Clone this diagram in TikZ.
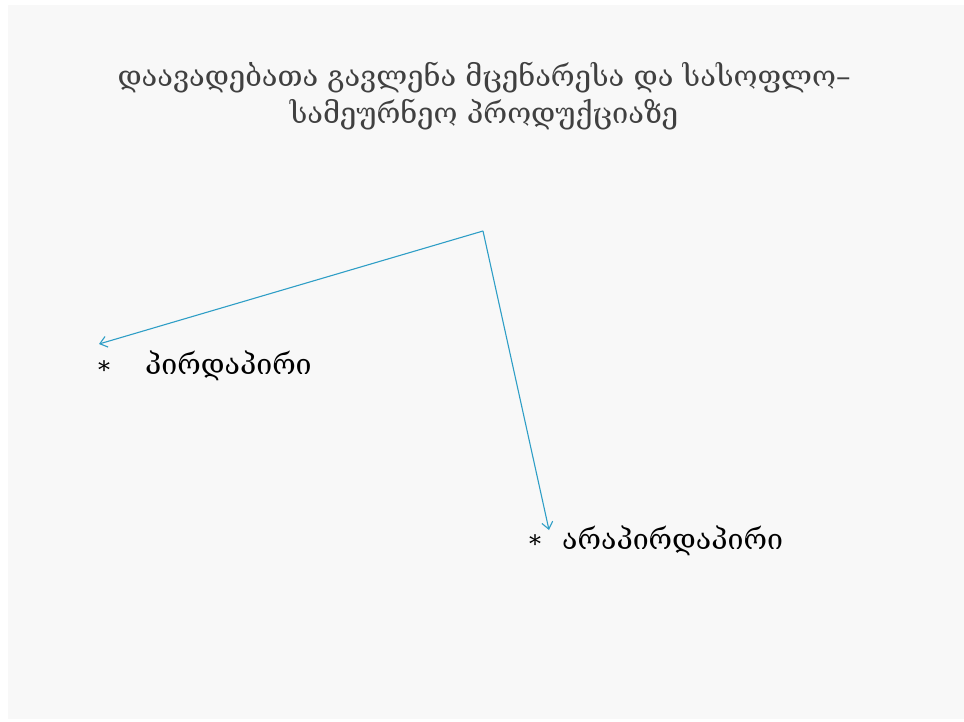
\documentclass[tikz,border=0pt]{standalone}
\usepackage{fontspec}
\setmainfont{DejaVu Serif}
\usetikzlibrary{arrows.meta}
\definecolor{panel}{HTML}{F8F8F8}
\definecolor{titlegray}{HTML}{404040}
\definecolor{arrowblue}{HTML}{2E9EC6}
\tikzset{
  titletext/.style={text=titlegray, font=\fontsize{29}{37}\selectfont, align=center, inner sep=0pt},
  itemtext/.style={text=black, font=\fontsize{28.5}{32}\selectfont, anchor=west, inner sep=0pt},
  startext/.style={text=black, font=\fontsize{24}{28}\selectfont, inner sep=0pt},
  conn/.style={draw=arrowblue, line width=1.1pt, -{Straight Barb[length=7pt,width=11pt]}}
}
\begin{document}
\begin{tikzpicture}[x=1pt,y=-1pt]
\useasboundingbox (0,0) rectangle (964,721);
\fill[white] (0,0) rectangle (964,721);
\fill[panel] (8,5) rectangle (964,719);
\node[titletext] (title) at (484,96) {დაავადებათა გავლენა მცენარესა და სასოფლო–\\სამეურნეო პროდუქციაზე};
\coordinate (apex) at (483,231);
\coordinate (ta) at (99,344);
\coordinate (tb) at (549,530);
\draw[conn] (apex) -- (ta);
\draw[conn] (apex) -- (tb);
\node[startext] (s1) at (104,370) {*};
\node[itemtext] (i1) at (145,366) {პირდაპირი};
\node[startext] (s2) at (535,544) {*};
\node[itemtext] (i2) at (562,541) {არაპირდაპირი};
\end{tikzpicture}
\end{document}
